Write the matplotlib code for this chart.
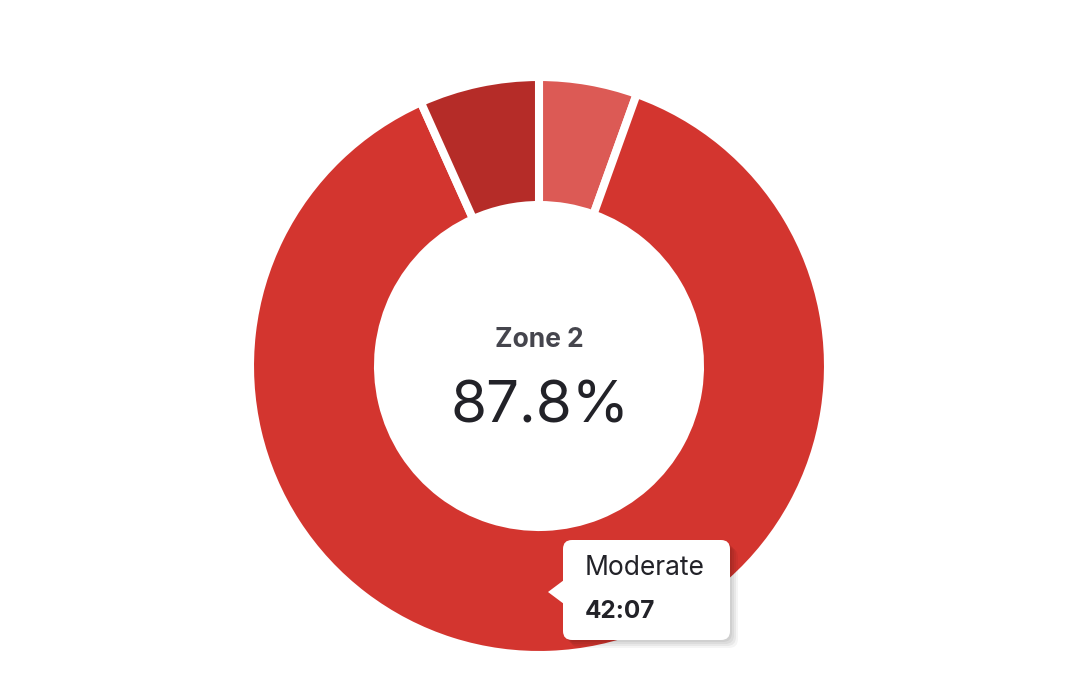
import matplotlib
matplotlib.use("Agg")
import matplotlib.pyplot as plt
from matplotlib.patches import FancyBboxPatch, Polygon

plt.rcParams['font.family'] = ['Inter', 'DejaVu Sans']

# zone durations in seconds, clockwise from 12 o'clock
zones = ["Zone 3", "Zone 2", "Zone 4"]
seconds = [158, 2527, 193]
colors = ["#dc5a55", "#d3352f", "#b52c28"]

center_zone = "Zone 2"
center_pct = "87.8%"
tip_label = "Moderate"
tip_value = "42:07"

W, H = 1080, 685
fig = plt.figure(figsize=(W / 100, H / 100), dpi=100)
ax = fig.add_axes([0, 0, 1, 1])
ax.set_xlim(0, W)
ax.set_ylim(0, H)
ax.set_aspect('equal')
ax.axis('off')

cx, cy = 539, H - 366
ax.pie(seconds, colors=colors, center=(cx, cy), radius=289,
       startangle=90, counterclock=False,
       wedgeprops=dict(width=128, edgecolor='white', linewidth=5.8))
ax.set_xlim(0, W)
ax.set_ylim(0, H)

# center labels
ax.text(cx, H - 347, center_zone, ha='center', va='baseline',
        fontsize=19, fontweight='bold', color='#45454d')
ax.text(cx + 1, H - 422, center_pct, ha='center', va='baseline',
        fontsize=42, fontweight='normal', color='#222228')

# tooltip with soft shadow
x0, y0, x1, y1 = 563, H - 640, 730, H - 540
for i, a in enumerate([0.05, 0.05, 0.05, 0.04]):
    d = 2 + i * 2
    ax.add_patch(FancyBboxPatch((x0 + d, y0 - d), x1 - x0, y1 - y0,
                                boxstyle="round,pad=0,rounding_size=9",
                                fc='black', ec='none', alpha=a, zorder=5))
ax.add_patch(FancyBboxPatch((x0, y0), x1 - x0, y1 - y0,
                            boxstyle="round,pad=0,rounding_size=9",
                            fc='white', ec='none', zorder=6))
ax.add_patch(Polygon([(x0 + 1, H - 580), (548, H - 592), (x0 + 1, H - 604)],
                     closed=True, fc='white', ec='none', zorder=6))
ax.text(585, H - 575, tip_label, ha='left', va='baseline',
        fontsize=19, color='#222228', zorder=7)
ax.text(585, H - 618, tip_value, ha='left', va='baseline',
        fontsize=17.5, fontweight='bold', color='#222228', zorder=7)

fig.savefig("out.png", dpi=100, facecolor='white')
